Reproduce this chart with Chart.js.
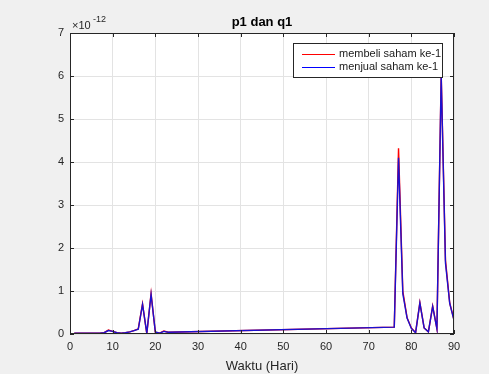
<!DOCTYPE html>
<html><head><meta charset="utf-8">
<script src="https://cdn.jsdelivr.net/npm/chart.js@4.4.1/dist/chart.umd.min.js"></script>
<style>html,body{margin:0;padding:0;background:#f0f0f0;}#wrap{width:489px;height:374px;}</style>
</head><body><div id="wrap"><canvas id="c" width="489" height="374"></canvas></div>
<script>
const chartTitle = "p1 dan q1";
const xAxisTitle = "Waktu (Hari)";
const exponentBase = "\u00d710";
const exponentPower = "-12";
const seriesNames = ["membeli saham ke-1", "menjual saham ke-1"];
const xTicks = [0,10,20,30,40,50,60,70,80,90];
const yTicks = [0,1,2,3,4,5,6,7];
const days = [1,2,3,4,5,6,7,8,9,10,11,12,13,14,15,16,17,18,19,20,21,22,23,76,77,78,79,80,81,82,83,84,85,86,87,88,89,90];
const p1 = [0.02,0.02,0.02,0.02,0.02,0.02,0.02,0.03,0.09,0.06,0.03,0.02,0.03,0.05,0.08,0.12,0.70,0.00,0.94,0.04,0.02,0.07,0.04,0.16,4.32,1.00,0.38,0.14,0.03,0.73,0.14,0.05,0.65,0.12,6.05,1.72,0.72,0.33];
const q1 = [0.02,0.02,0.02,0.02,0.02,0.02,0.02,0.03,0.08,0.06,0.03,0.02,0.03,0.05,0.08,0.11,0.69,0.02,0.92,0.05,0.02,0.06,0.04,0.16,4.10,0.94,0.37,0.13,0.03,0.72,0.14,0.05,0.64,0.12,6.00,1.65,0.71,0.32];

const FONT = "'Liberation Sans', Arial, sans-serif";
const AX = '#262626';

const frame = {
  id: 'frame',
  beforeDraw(chart){
    const {ctx, chartArea:a} = chart;
    ctx.save();
    ctx.fillStyle = '#f0f0f0';
    ctx.fillRect(0,0,chart.width,chart.height);
    ctx.fillStyle = '#ffffff';
    ctx.fillRect(a.left,a.top,a.right-a.left,a.bottom-a.top);
    ctx.restore();
  },
  afterDatasetsDraw(chart){
    const {ctx, chartArea:a, scales:{x,y}} = chart;
    ctx.save();
    ctx.strokeStyle = AX; ctx.lineWidth = 1;
    ctx.strokeRect(Math.round(a.left)+0.5, Math.round(a.top)+0.5, Math.round(a.right-a.left)-1, Math.round(a.bottom-a.top)-1);
    ctx.beginPath();
    xTicks.forEach(v=>{const px=Math.round(x.getPixelForValue(v))+0.5;
      ctx.moveTo(px,a.bottom); ctx.lineTo(px,a.bottom-4);
      ctx.moveTo(px,a.top); ctx.lineTo(px,a.top+4);});
    yTicks.forEach(v=>{const py=Math.round(y.getPixelForValue(v))+0.5;
      ctx.moveTo(a.left,py); ctx.lineTo(a.left+4,py);
      ctx.moveTo(a.right,py); ctx.lineTo(a.right-4,py);});
    ctx.stroke();
    // title
    ctx.fillStyle = '#000';
    ctx.font = "bold 13px " + FONT;
    ctx.textAlign='center'; ctx.textBaseline='middle';
    ctx.fillText(chartTitle, 262, 22);
    // exponent
    ctx.fillStyle = AX;
    ctx.font = "11px " + FONT;
    ctx.textAlign='left';
    ctx.fillText(exponentBase, 72, 26);
    ctx.font = "9px " + FONT;
    ctx.fillText(exponentPower, 93, 20);
    // legend
    const lx=293, ly=43, lw=149, lh=34;
    ctx.fillStyle='#fff'; ctx.fillRect(lx,ly,lw,lh);
    ctx.strokeStyle=AX; ctx.strokeRect(lx+0.5,ly+0.5,lw,lh);
    const cols=['#ff0000','#0000ff'];
    const rows=[54,67];
    rows.forEach((ry,i)=>{
      ctx.strokeStyle=cols[i]; ctx.lineWidth=1;
      ctx.beginPath(); ctx.moveTo(302,ry+0.5); ctx.lineTo(335,ry+0.5); ctx.stroke();
      ctx.fillStyle='#1a1a1a'; ctx.font="11px "+FONT; ctx.textAlign='left'; ctx.textBaseline='middle';
      ctx.fillText(seriesNames[i], 339, ry);
    });
    ctx.restore();
  }
};

new Chart(document.getElementById('c'), {
  type:'line',
  data:{datasets:[
    {label:seriesNames[0], order:2, data:days.map((d,i)=>({x:d,y:p1[i]})), borderColor:'#ff0000', borderWidth:1.4, pointRadius:0, tension:0, fill:false},
    {label:seriesNames[1], order:1, data:days.map((d,i)=>({x:d,y:q1[i]})), borderColor:'#1a10d0', borderWidth:1.4, pointRadius:0, tension:0, fill:false}
  ]},
  options:{
    responsive:false, animation:false,
    layout:{padding:{top:33,right:35,left:0,bottom:0}},
    plugins:{legend:{display:false}, tooltip:{enabled:false}},
    scales:{
      x:{type:'linear', min:0, max:90,
        afterBuildTicks(s){s.ticks = xTicks.map(v=>({value:v}));},
        afterFit(s){s.height = 40;},
        grid:{color:'#e3e3e3', drawTicks:false},
        border:{display:false},
        ticks:{color:AX, font:{family:FONT,size:11}, padding:6, maxRotation:0},
        title:{display:true, text:xAxisTitle, color:AX, font:{family:FONT,size:13}, padding:{top:0,bottom:0}}
      },
      y:{type:'linear', min:0, max:7,
        afterBuildTicks(s){s.ticks = yTicks.map(v=>({value:v}));},
        afterFit(s){s.width = 70;},
        grid:{color:'#e3e3e3', drawTicks:false},
        border:{display:false},
        ticks:{color:AX, font:{family:FONT,size:11}, padding:6}
      }
    }
  },
  plugins:[frame]
});
</script></body></html>
